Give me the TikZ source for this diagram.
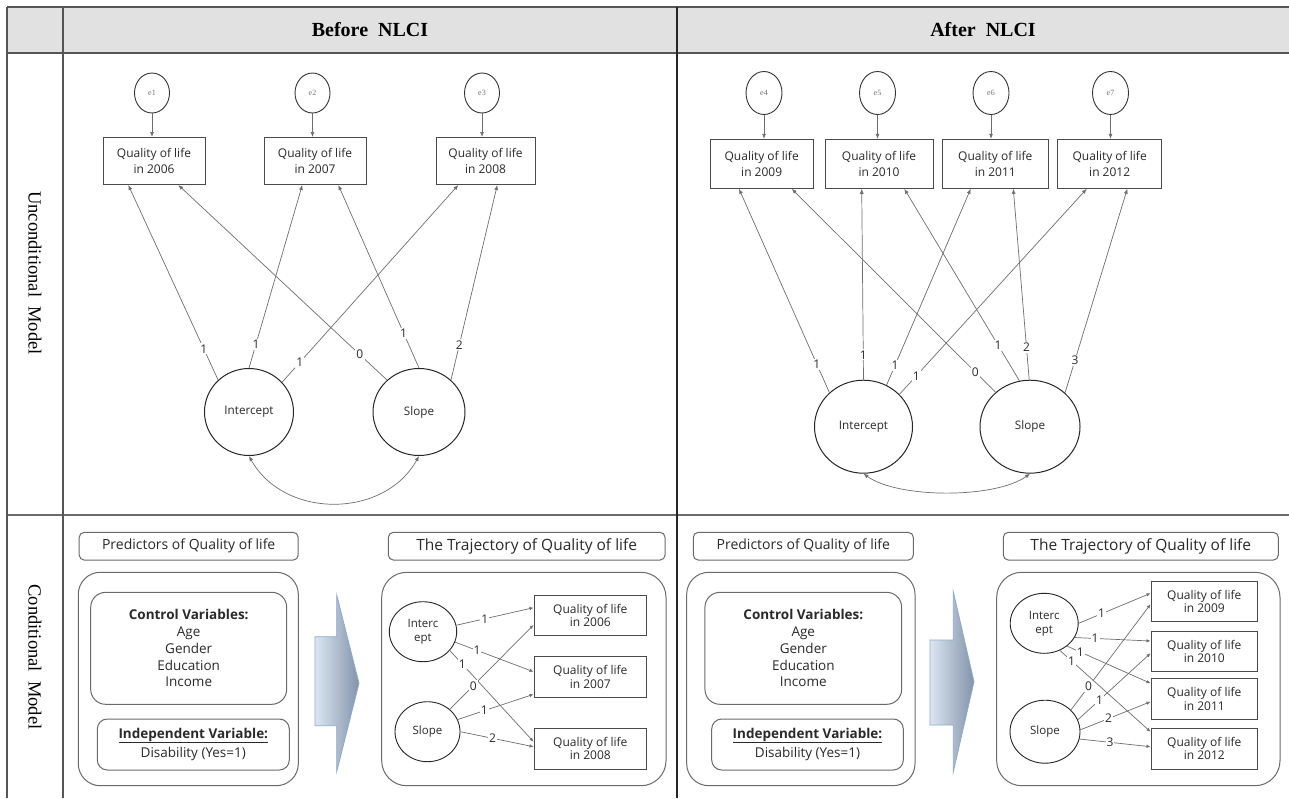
\documentclass[tikz,border=0pt]{standalone}
\usepackage{fontspec}
\setmainfont{Open Sans}
\newfontfamily\tms{Liberation Serif}
\usetikzlibrary{shapes.geometric,arrows.meta,calc}
\definecolor{hdr}{HTML}{E1E1E1}
\definecolor{tline}{HTML}{555555}
\definecolor{txt}{HTML}{2A2A2A}
\definecolor{cline}{HTML}{6E6E6E}
\definecolor{bline}{HTML}{4A4A4A}
\definecolor{rline}{HTML}{6A6A6A}
\definecolor{arrL}{HTML}{DCE6F2}
\definecolor{arrR}{HTML}{8293AA}
\definecolor{arrD}{HTML}{8FA9CF}
\begin{document}
\begin{tikzpicture}[x=1pt,y=-1pt,
  every node/.style={text=txt},
  tq/.style={draw=bline, line width=1pt, minimum height=47pt, inner sep=0pt, align=center, font=\fontsize{12}{16}\selectfont},
  bq/.style={draw=bline, line width=0.9pt, minimum width=#1, minimum height=40.7pt, inner sep=0pt, align=center, font=\fontsize{12}{13.5}\selectfont},
  lat/.style={ellipse, draw=black!85, line width=1pt, inner sep=0pt, align=center, font=\fontsize{11.7}{13}\selectfont},
  slat/.style={ellipse, draw=black!85, line width=0.9pt, inner sep=0pt, align=center, font=\fontsize{11.5}{14}\selectfont},
  errc/.style={ellipse, draw=black!80, line width=0.9pt, minimum width=35pt, minimum height=40pt, inner sep=0pt, text=black!55, font=\tms\fontsize{8}{9}\selectfont},
  conn/.style={draw=cline, line width=0.7pt, -{Latex[length=5pt,width=4pt]}},
  sconn/.style={draw=cline, line width=0.7pt, -{Latex[length=4pt,width=3.5pt]}},
  lbl/.style={fill=white, inner sep=1.2pt, font=\fontsize{12}{13}\selectfont},
  slbl/.style={fill=white, inner sep=1pt, font=\fontsize{12}{13}\selectfont},
  rbox/.style={draw=rline, line width=1pt, inner sep=0pt, align=center, font=\fontsize{13.5}{16.7}\selectfont},
  hdrtxt/.style={font=\tms\bfseries\fontsize{20}{22}\selectfont, text=black},
  sidetxt/.style={rotate=-90, font=\tms\fontsize{18.5}{20}\selectfont, text=black},
  blockarr/.style={draw=arrD, line width=0.8pt, left color=arrL, right color=arrR},
  uline/.style={draw=txt, line width=0.8pt}
]
\useasboundingbox (0,0) rectangle (1289,798);
\fill[white] (0,0) rectangle (1289,798);
% ---------------- table ----------------
\fill[hdr] (7,7) rectangle (1289,53);
\draw[tline, line width=1.4pt] (7,7) -- (1289,7);
\draw[tline, line width=1.2pt] (7,53) -- (1289,53);
\draw[rline, line width=1.5pt] (7,515) -- (1289,515);
\draw[tline, line width=1.2pt] (7,7) -- (7,798);
\draw[tline, line width=1.2pt] (63,7) -- (63,798);
\draw[black!85, line width=1.2pt] (677,7) -- (677,798);
\node[hdrtxt] (hb) at (370,30) {Before\ \ NLCI};
\node[hdrtxt] (ha) at (983,30) {After\ \ NLCI};
\node[sidetxt] (su) at (35,273) {Unconditional\ \ Model};
\node[sidetxt] (sc) at (35,657) {Conditional\ \ Model};

% ---------------- top left: unconditional before ----------------
\node[errc] (e1) at (152,93) {e1};
\node[errc] (e2) at (312.5,93) {e2};
\node[errc] (e3) at (482,93) {e3};
\node[tq, minimum width=102pt] (q06) at (154,161) {Quality of life\\in 2006};
\node[tq, minimum width=102pt] (q07) at (315,161) {Quality of life\\in 2007};
\node[tq, minimum width=99pt] (q08) at (485.5,161) {Quality of life\\in 2008};
\node[lat, minimum width=89pt, minimum height=87pt] (i1) at (249,412) {Intercept};
\node[lat, minimum width=92pt, minimum height=87pt] (s1) at (419,412) {Slope};
\draw[conn] (e1.south) -- (e1.south |- q06.north);
\draw[conn] (e2.south) -- (e2.south |- q07.north);
\draw[conn] (e3.south) -- (e3.south |- q08.north);
\draw[conn] (i1.134) -- node[lbl,pos=0.16]{1} ([xshift=-25.7pt]q06.south);
\draw[conn] (i1.90) -- node[lbl,pos=0.13]{1} ([xshift=-12.7pt]q07.south);
\draw[conn] (i1.42) -- node[lbl,pos=0.10]{1} ([xshift=-27.2pt]q08.south);
\draw[conn] (s1.135) -- node[lbl,pos=0.13]{0} ([xshift=24.3pt]q06.south);
\draw[conn] (s1.90) -- node[lbl,pos=0.19]{1} ([xshift=23.3pt]q07.south);
\draw[conn] (s1.45) -- node[lbl,pos=0.18]{2} ([xshift=11.8pt]q08.south);
\draw[conn, {Latex[length=5pt,width=4pt]}-{Latex[length=5pt,width=4pt]}]
  (i1.south) .. controls +(35,63) and +(-35,63) .. (s1.south);

% ---------------- top right: unconditional after ----------------
\node[errc, minimum width=36pt, minimum height=43pt] (e4) at (764,93) {e4};
\node[errc, minimum width=36pt, minimum height=43pt] (e5) at (877.5,93) {e5};
\node[errc, minimum width=36pt, minimum height=43pt] (e6) at (991,93) {e6};
\node[errc, minimum width=36pt, minimum height=43pt] (e7) at (1110.5,93) {e7};
\node[tq, minimum width=103pt, minimum height=49pt] (q09) at (761.7,163.8) {Quality of life\\in 2009};
\node[tq, minimum width=108pt, minimum height=49pt] (q10) at (879,163.8) {Quality of life\\in 2010};
\node[tq, minimum width=106pt, minimum height=49pt] (q11) at (995.3,163.8) {Quality of life\\in 2011};
\node[tq, minimum width=104pt, minimum height=49pt] (q12) at (1109.7,163.8) {Quality of life\\in 2012};
\node[lat, minimum width=98pt, minimum height=93pt] (i2) at (863.5,426.7) {Intercept};
\node[lat, minimum width=100pt, minimum height=93pt] (s2) at (1030,426.7) {Slope};
\draw[conn] (e4.south) -- (e4.south |- q09.north);
\draw[conn] (e5.south) -- (e5.south |- q10.north);
\draw[conn] (e6.south) -- (e6.south |- q11.north);
\draw[conn] (e7.south) -- (e7.south |- q12.north);
\draw[conn] (i2.135) -- node[lbl,pos=0.14]{1} ([xshift=-22.7pt]q09.south);
\draw[conn] (i2.90) -- node[lbl,pos=0.13]{1} ([xshift=-17.3pt]q10.south);
\draw[conn] (i2.61) -- node[lbl,pos=0.10]{1} ([xshift=-24.6pt]q11.south);
\draw[conn] (i2.42) -- node[lbl,pos=0.09]{1} ([xshift=-23pt]q12.south);
\draw[conn] (s2.135) -- node[lbl,pos=0.10]{0} ([xshift=30pt]q09.south);
\draw[conn] (s2.103) -- node[lbl,pos=0.185]{1} ([xshift=25.3pt]q10.south);
\draw[conn] (s2.91) -- node[lbl,pos=0.17]{2} ([xshift=18pt]q11.south);
\draw[conn] (s2.44) -- node[lbl,pos=0.16]{3} ([xshift=17.6pt]q12.south);
\draw[conn, {Latex[length=5pt,width=4pt]}-{Latex[length=5pt,width=4pt]}]
  (i2.south) .. controls +(35,25) and +(-35,25) .. (s2.south);

% ---------------- bottom left: predictors (before) ----------------
\node[rbox, rounded corners=5pt, minimum width=219pt, minimum height=27.7pt, font=\fontsize{14}{16}\selectfont] (p1) at (188.7,546.2) {Predictors of Quality of life};
\draw[rline, line width=1pt, rounded corners=22pt] (78.3,572.3) rectangle (298.3,785.7);
\node[rbox, rounded corners=15pt, minimum width=196pt, minimum height=112pt] (cv1) at (188.7,648.3) {\textbf{Control Variables:}\\Age\\Gender\\Education\\Income};
\node[rbox, rounded corners=10pt, minimum width=192pt, minimum height=51pt] (iv1) at (193.3,744.5) {\textbf{Independent Variable:}\\[1.5pt]Disability (Yes=1)};
\draw[uline] ([xshift=-74.5pt,yshift=2.6pt]iv1.center) -- ([xshift=74.5pt,yshift=2.6pt]iv1.center);
\path[blockarr] (315,636.7) -- (336.7,636.7) -- (336.7,595) -- (359,683.3) -- (336.7,771.7) -- (336.7,725.7) -- (315,725.7) -- cycle;

% ---------------- bottom left: trajectory (before) ----------------
\node[rbox, rounded corners=5pt, minimum width=276.7pt, minimum height=27.7pt, font=\fontsize{15.5}{16}\selectfont] (t1) at (526.7,546.2) {The Trajectory of Quality of life};
\draw[rline, line width=1pt, rounded corners=25pt] (381.7,572.3) rectangle (666,785.7);
\node[slat, minimum width=67.4pt, minimum height=60pt] (i3) at (423,631.7) {Interc\\ept};
\node[slat, minimum width=65pt, minimum height=60pt] (s3) at (427.5,731.7) {Slope};
\node[bq=112.7pt] (b06) at (590.3,615.3) {Quality of life\\in 2006};
\node[bq=112.7pt] (b07) at (590.3,677) {Quality of life\\in 2007};
\node[bq=112.7pt] (b08) at (590.3,748.7) {Quality of life\\in 2008};
\draw[sconn] (i3.11) -- node[slbl,pos=0.37]{1} ([yshift=7.6pt]b06.west);
\draw[sconn] (i3.-18) -- node[slbl,pos=0.28]{1} ([yshift=5.3pt]b07.west);
\draw[sconn] (i3.-35) -- node[slbl,pos=0.15]{1} ([yshift=7pt]b08.west);
\draw[sconn] (s3.45) -- node[slbl,pos=0.28]{0} ([yshift=-9.7pt]b06.west);
\draw[sconn] (s3.22) -- node[slbl,pos=0.35]{1} ([yshift=-17.3pt]b07.west);
\draw[sconn] (s3.0) -- node[slbl,pos=0.44]{2} ([yshift=2pt]b08.west);

% ---------------- bottom right: predictors (after) ----------------
\node[rbox, rounded corners=5pt, minimum width=220pt, minimum height=27.7pt, font=\fontsize{14}{16}\selectfont] (p2) at (803.3,546.2) {Predictors of Quality of life};
\draw[rline, line width=1pt, rounded corners=22pt] (686.7,572.3) rectangle (915,785.7);
\node[rbox, rounded corners=15pt, minimum width=196.7pt, minimum height=112pt] (cv2) at (803.3,648.3) {\textbf{Control Variables:}\\Age\\Gender\\Education\\Income};
\node[rbox, rounded corners=10pt, minimum width=191.6pt, minimum height=51pt] (iv2) at (807.5,744.5) {\textbf{Independent Variable:}\\[1.5pt]Disability (Yes=1)};
\draw[uline] ([xshift=-74.5pt,yshift=2.6pt]iv2.center) -- ([xshift=74.5pt,yshift=2.6pt]iv2.center);
\path[blockarr] (930,640) -- (953.3,640) -- (953.3,591.7) -- (974,681.7) -- (953.3,771.7) -- (953.3,725) -- (930,725) -- cycle;

% ---------------- bottom right: trajectory (after) ----------------
\node[rbox, rounded corners=5pt, minimum width=275pt, minimum height=27.7pt, font=\fontsize{15.5}{16}\selectfont] (t2) at (1140.8,546.2) {The Trajectory of Quality of life};
\draw[rline, line width=1pt, rounded corners=25pt] (996.7,572.3) rectangle (1280,785.7);
\node[slat, minimum width=68pt, minimum height=60pt] (i4) at (1044.2,623.3) {Interc\\ept};
\node[slat, minimum width=70pt, minimum height=63pt] (s4) at (1045,731.7) {Slope};
\node[bq=106.7pt] (c09) at (1204.3,601.3) {Quality of life\\in 2009};
\node[bq=106.7pt] (c10) at (1204.3,651.3) {Quality of life\\in 2010};
\node[bq=106.7pt] (c11) at (1204.3,699.2) {Quality of life\\in 2011};
\node[bq=106.7pt] (c12) at (1204.3,748.7) {Quality of life\\in 2012};
\draw[sconn] (i4.0) -- node[slbl,pos=0.32]{1} ([yshift=8pt]c09.west);
\draw[sconn] (i4.-25) -- node[slbl,pos=0.27]{1} ([yshift=10.3pt]c10.west);
\draw[sconn] (i4.-45) -- node[slbl,pos=0.16]{1} ([yshift=15.9pt]c11.west);
\draw[sconn] (i4.-60) -- node[slbl,pos=0.13]{1} ([yshift=17pt]c12.west);
\draw[sconn] (s4.40) -- node[slbl,pos=0.22]{0} ([yshift=-3pt]c09.west);
\draw[sconn] (s4.20) -- node[slbl,pos=0.30]{1} ([yshift=-2pt]c10.west);
\draw[sconn] (s4.3) -- node[slbl,pos=0.40]{2} ([yshift=-2.5pt]c11.west);
\draw[sconn] (s4.-12) -- node[slbl,pos=0.43]{3} ([yshift=2pt]c12.west);
\end{tikzpicture}
\end{document}
